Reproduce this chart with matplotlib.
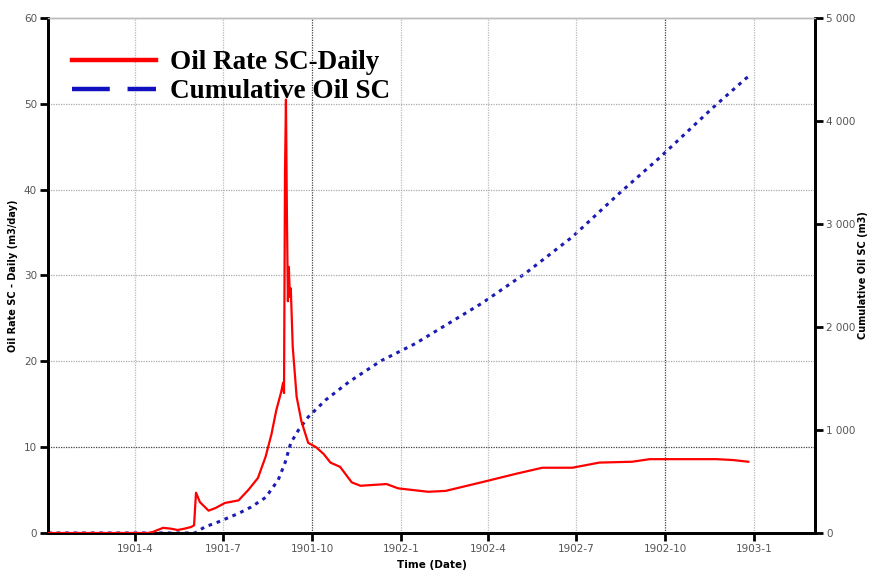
import numpy as np
import pandas as pd
import matplotlib
matplotlib.use('Agg')
import matplotlib.pyplot as plt
from matplotlib.lines import Line2D
from matplotlib.ticker import FuncFormatter

# oil rate (m3/day)
rate_dates = ['1901-01-01', '1901-04-14', '1901-04-19', '1901-04-30', '1901-05-08', '1901-05-15',
              '1901-05-22', '1901-05-29', '1901-06-01', '1901-06-03', '1901-06-07', '1901-06-16',
              '1901-06-23', '1901-07-03', '1901-07-17', '1901-07-27', '1901-08-06', '1901-08-14',
              '1901-08-20', '1901-08-25', '1901-08-30', '1901-09-01', '1901-09-02', '1901-09-03',
              '1901-09-04', '1901-09-05', '1901-09-06', '1901-09-07', '1901-09-08', '1901-09-09',
              '1901-09-11', '1901-09-15', '1901-09-20', '1901-09-27', '1901-10-05', '1901-10-13',
              '1901-10-20', '1901-10-30', '1901-11-11', '1901-11-20', '1901-12-17', '1901-12-29',
              '1902-01-29', '1902-02-16', '1902-03-25', '1902-04-30', '1902-05-27', '1902-06-27',
              '1902-07-25', '1902-08-28', '1902-09-15', '1902-10-13', '1902-11-23', '1902-12-10',
              '1902-12-26']
rate_vals = [0, 0, 0.1, 0.6, 0.5, 0.35,
             0.5, 0.7, 0.9, 4.7, 3.6, 2.6,
             2.9, 3.5, 3.8, 5.0, 6.4, 8.9,
             11.5, 14.3, 16.4, 17.5, 16.3, 42,
             50.5, 37, 27, 31, 27.5, 28.5,
             21.7, 15.9, 13.0, 10.5, 10.0, 9.2,
             8.2, 7.7, 5.9, 5.5, 5.7, 5.2,
             4.8, 4.9, 5.9, 6.9, 7.6, 7.6,
             8.2, 8.3, 8.6, 8.6, 8.6, 8.5,
             8.3]

# cumulative oil (m3)
cum_dates = ['1901-01-01', '1901-06-02', '1901-06-12', '1901-06-26', '1901-07-17', '1901-07-30',
             '1901-08-14', '1901-08-27', '1901-09-03', '1901-09-09', '1901-09-17', '1901-09-27',
             '1901-10-15', '1901-11-08', '1901-12-11', '1902-01-16', '1902-01-30', '1902-03-26',
             '1902-05-10', '1902-06-27', '1902-08-15', '1902-09-25', '1902-11-19', '1902-12-24',
             '1902-12-28']
cum_vals = [0, 0, 58, 107, 190, 252,
            345, 515, 680, 874, 1000, 1126,
            1291, 1466, 1670, 1840, 1920, 2233,
            2524, 2874, 3301, 3641, 4126, 4417,
            4440]

xtick_dates = ['1901-4-1', '1901-7-1', '1901-10-1', '1902-1-1', '1902-4-1',
               '1902-7-1', '1902-10-1', '1903-1-1']
xtick_labels = ['1901-4', '1901-7', '1901-10', '1902-1', '1902-4', '1902-7', '1902-10', '1903-1']

rd = pd.to_datetime(rate_dates)
cd = pd.to_datetime(cum_dates)
xt = pd.to_datetime(xtick_dates)

fig = plt.figure(figsize=(8.7, 5.77), dpi=100)
ax = fig.add_axes([0.0552, 0.0763, 0.8816, 0.8925])
ax2 = ax.twinx()

ax.set_xlim(pd.Timestamp('1901-01-01'), pd.Timestamp('1903-03-05'))
ax.set_ylim(0, 60)
ax2.set_ylim(0, 5000)

# grid by hand so some lines can be darker
for i, d in enumerate(xt):
    c = '#444444' if xtick_labels[i] in ('1901-10', '1902-10') else '#bbbbbb'
    ax.axvline(d, color=c, lw=0.9, ls=(0, (1, 1)), zorder=0)
for v in [10, 20, 30, 40, 50]:
    c = '#444444' if v == 10 else '#aaaaaa'
    ax.axhline(v, color=c, lw=0.9, ls=(0, (1, 1)), zorder=0)

ax.plot(rd, rate_vals, color='red', lw=1.6, zorder=3)
ax2.plot(cd, cum_vals, color='#1c1cb4', lw=2.2, ls=(0, (1.2, 1.6)), zorder=2)
ax.set_zorder(ax2.get_zorder() + 1)
ax.patch.set_visible(False)

ax.set_xticks(xt)
ax.set_xticklabels(xtick_labels)
ax.set_yticks([0, 10, 20, 30, 40, 50, 60])
ax2.set_yticks([0, 1000, 2000, 3000, 4000, 5000])
ax2.yaxis.set_major_formatter(FuncFormatter(lambda v, p: format(int(v), ',').replace(',', ' ')))

for a in (ax, ax2):
    a.tick_params(axis='both', direction='out', length=6, width=2, color='black',
                  labelsize=7.5, labelcolor='#555555', pad=2)
    for s in a.spines.values():
        s.set_linewidth(2)
    a.spines['top'].set_color('#bbbbbb')
    a.spines['top'].set_linewidth(1)

ax.set_xlabel('Time (Date)', fontsize=7.5, fontweight='bold', labelpad=4)
ax.set_ylabel('Oil Rate SC - Daily (m3/day)', fontsize=7, fontweight='bold', labelpad=4)
ax2.set_ylabel('Cumulative Oil SC (m3)', fontsize=7, fontweight='bold', labelpad=2)

handles = [Line2D([], [], color='red', lw=3.2),
           Line2D([], [], color='#1010c0', lw=3.2, dashes=(8.5, 4))]
leg = ax.legend(handles, ['Oil Rate SC-Daily', 'Cumulative Oil SC'], loc='upper left',
                bbox_to_anchor=(0.0, 0.985), frameon=False, handlelength=3.1,
                handletextpad=0.5, labelspacing=0.15,
                prop={'family': 'Liberation Serif', 'weight': 'bold', 'size': 19.5})

fig.savefig('out.png', dpi=100)
